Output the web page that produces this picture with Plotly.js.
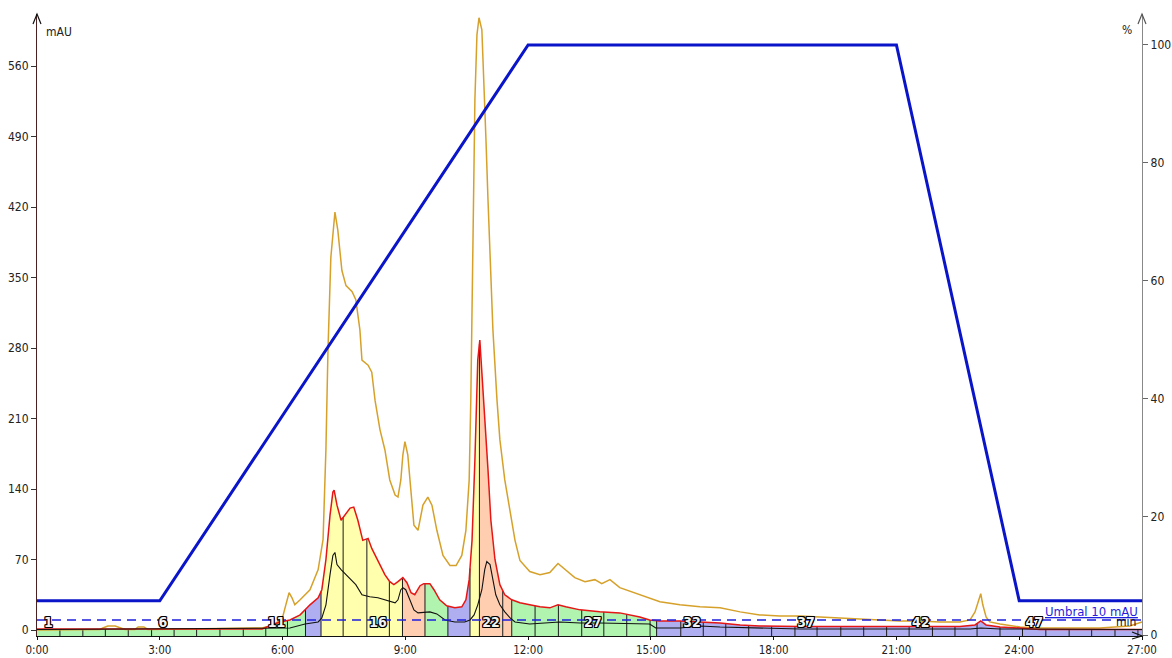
<!DOCTYPE html>
<html><head><meta charset="utf-8">
<script src="https://cdn.plot.ly/plotly-3.0.1.min.js"></script>
<style>html,body{margin:0;padding:0;background:#fff}#chart{width:1172px;height:658px}</style>
</head><body><div id="chart"></div>
<script>
// ---------- DATA (time in minutes, absorbance in mAU, gradient in %) ----------
const goldT=[0,1.54,1.61,1.73,1.91,2.03,2.15,2.39,2.47,2.61,2.71,5.50,5.69,5.84,5.99,6.08,6.16,6.23,6.30,6.43,6.67,6.87,6.99,7.06,7.11,7.18,7.26,7.28,7.35,7.45,7.55,7.70,7.79,7.89,7.94,8.04,8.09,8.18,8.26,8.38,8.50,8.62,8.75,8.82,8.89,8.94,8.99,9.06,9.14,9.21,9.31,9.43,9.55,9.65,9.77,9.92,10.09,10.24,10.38,10.48,10.56,10.60,10.65,10.70,10.75,10.80,10.87,10.92,10.97,11.02,11.07,11.14,11.24,11.31,11.43,11.56,11.68,11.80,12.04,12.29,12.53,12.73,12.90,13.14,13.39,13.63,13.80,14.00,14.24,14.73,15.22,15.71,16.20,16.69,17.18,17.66,18.15,18.64,19.13,19.62,20.11,20.60,21.08,21.57,22.06,22.55,22.80,22.92,23.01,23.06,23.11,23.19,23.28,23.53,24.02,24.50,25.97,26.70,27.0];
const goldV=[0,0.5,2,4,4,2,0.5,0.5,3,3,0.5,2,4,7,11,25,37,32,25,30,40,60,90,180,278,370,412,415,397,357,342,336,328,298,268,265,263,256,228,199,179,149,134,132,149,174,187,174,139,104,99,124,132,124,99,74,64,64,74,99,149,229,378,527,591,608,596,546,487,427,367,298,228,189,149,119,89,69,58,55,57,66,60,52,48,50,46,50,42,35,28,25,23,22,18,15,14,14,13,12,11,10,9,9,8,8,10,18,30,36,25,13,8,6,3,2,2,4,8];

const redT=[0,5.50,5.62,5.94,6.18,6.43,6.67,6.87,6.96,7.06,7.16,7.23,7.26,7.33,7.43,7.53,7.65,7.74,7.84,7.96,8.06,8.09,8.18,8.31,8.50,8.62,8.72,8.82,8.94,9.04,9.14,9.23,9.31,9.36,9.45,9.60,9.70,9.84,10.01,10.21,10.38,10.48,10.56,10.63,10.70,10.77,10.82,10.87,10.94,11.02,11.09,11.19,11.31,11.43,11.60,11.80,12.04,12.29,12.53,12.73,12.92,13.27,13.75,14.24,14.73,14.97,15.22,15.71,16.20,16.69,17.18,17.66,18.64,21.08,22.55,22.92,23.06,23.19,23.53,24.02,24.50,27.0];
const redV=[1,1,3,8,10,15,25,32,40,70,114,137,139,124,109,115,121,122,109,89,90,91,81,70,55,48,45,48,52,47,37,35,40,44,46,46,40,30,24,22,23,30,50,89,169,268,288,258,208,159,109,70,45,35,30,27,25,23,22,25,23,20,18,17,13,10,9,9,8,7,5,4,3.5,3.5,3.5,5,9,5,3,2,0.5,0.5];

const blackT=[0,6.18,6.55,6.87,6.96,7.06,7.16,7.23,7.28,7.33,7.43,7.55,7.65,7.79,7.94,8.13,8.33,8.50,8.62,8.75,8.82,8.89,8.94,9.01,9.11,9.21,9.31,9.48,9.60,9.77,9.97,10.21,10.45,10.58,10.68,10.77,10.87,10.94,10.99,11.07,11.14,11.21,11.31,11.43,11.56,11.68,12.04,12.77,13.27,13.75,14.97,15.12,15.71,16.20,16.69,18.64,22.80,23.06,23.53,27.0];
const blackV=[0.5,2,6,8,12,25,55,74,77,65,60,55,50,45,35,33,32,30,28,27,30,40,42,40,30,20,17,18,18,16,10,8,8,10,15,25,40,60,68,65,50,35,25,18,12,8,6,8,7,7,6,2,2,4,3,1,1,2,1,0.5];

const gradT=[0,3,12,21,24,27];
const gradV=[5.8,5.8,100,100,5.8,5.8];

const threshold=10;

// fraction boundaries (min) and class of each fraction
const fracBounds=[0,0.56,1.12,1.67,2.23,2.80,3.35,3.90,4.47,5.04,5.59,6.12,6.56,6.94,7.48,8.06,8.61,8.93,9.48,10.04,10.58,10.81,11.38,11.60,12.17,12.74,13.31,13.85,14.41,14.98,15.14,15.73,16.28,16.83,17.39,17.95,18.52,19.06,19.64,20.20,20.76,21.31,21.88,22.43,22.97,23.53,24.08,24.65,25.22,25.77,26.34,26.90,27.0];
const fracClass=['G','G','G','G','G','G','G','G','G','G','G','G','B','Y','Y','Y','Y','P','G','B','Y','P','P','G','G','G','G','G','G','G','B','B','B','B','B','B','B','B','B','B','B','B','B','B','B','B','B','B','B','B','B','B'];
const fracLabels=[1,6,11,16,22,27,32,37,42,47];

const xTickVals=[0,3,6,9,12,15,18,21,24,27];
const xTickText=['0:00','3:00','6:00','9:00','12:00','15:00','18:00','21:00','24:00','27:00'];
const yTickVals=[0,70,140,210,280,350,420,490,560];
const y2TickVals=[0,20,40,60,80,100];

// ---------- STYLE ----------
const Y_RANGE=[-5.96,611.7];
const Y2_RANGE=[-0.17,105.25];
const classColor={G:'#b0f4b0',B:'#aeaef0',Y:'#ffffae',P:'#ffcdb0'};
const FONT='"DejaVu Sans Condensed","DejaVu Sans",sans-serif';

function interp(ts,vs,t){
  if(t<=ts[0]) return vs[0];
  for(let i=1;i<ts.length;i++){
    if(t<=ts[i]){const f=(t-ts[i-1])/(ts[i]-ts[i-1]);return vs[i-1]+f*(vs[i]-vs[i-1]);}
  }
  return vs[vs.length-1];
}

const traces=[];
const base=Y_RANGE[0];
// fraction fills
for(let k=0;k<fracClass.length;k++){
  const s=fracBounds[k], e=fracBounds[k+1];
  const xs=[s], ys=[interp(redT,redV,s)];
  for(let i=0;i<redT.length;i++){ if(redT[i]>s && redT[i]<e){xs.push(redT[i]);ys.push(redV[i]);} }
  xs.push(e,e,s); ys.push(interp(redT,redV,e),base,base);
  traces.push({type:'scatter',mode:'lines',x:xs,y:ys,fill:'toself',fillcolor:classColor[fracClass[k]],line:{width:0},hoverinfo:'skip'});
}
// fraction dividers
const dvx=[],dvy=[];
for(let k=1;k<fracBounds.length-1;k++){ const b=fracBounds[k]; dvx.push(b,b,null); dvy.push(base,interp(redT,redV,b),null); }
traces.push({type:'scatter',mode:'lines',x:dvx,y:dvy,line:{color:'#1a1a1a',width:1},hoverinfo:'skip'});
// traces
traces.push({type:'scatter',mode:'lines',x:goldT,y:goldV,line:{color:'#d6a12a',width:1.5},hoverinfo:'skip'});
traces.push({type:'scatter',mode:'lines',x:redT,y:redV,line:{color:'#e41616',width:1.5},hoverinfo:'skip'});
traces.push({type:'scatter',mode:'lines',x:blackT,y:blackV,line:{color:'#111',width:1.1},hoverinfo:'skip'});
traces.push({type:'scatter',mode:'lines',x:[0,27],y:[threshold,threshold],line:{color:'#1f1fdd',width:1.6,dash:'9px,6px'},hoverinfo:'skip'});
// fraction labels
const lx=fracLabels.map(n=>(fracBounds[n-1]+fracBounds[n])/2);
traces.push({type:'scatter',mode:'text',x:lx,y:lx.map(()=>6),text:fracLabels.map(String),
  textfont:{family:FONT,size:14,color:'#f2f2f2',weight:'bold',shadow:'1px 0 0 #000, -1px 0 0 #000, 0 1px 0 #000, 0 -1px 0 #000, 1px 1px 0 #000, -1px -1px 0 #000, 1px -1px 0 #000, -1px 1px 0 #000'},hoverinfo:'skip'});
// gradient
traces.push({type:'scatter',mode:'lines',x:gradT,y:gradV,yaxis:'y2',line:{color:'#0a14c8',width:3},hoverinfo:'skip'});

const layout={
  width:1172,height:658,margin:{l:37,r:30,t:14,b:22,pad:0},
  paper_bgcolor:'#fff',plot_bgcolor:'#fff',showlegend:false,
  font:{family:FONT,size:12,color:'#222'},
  xaxis:{range:[0,27],showgrid:false,zeroline:false,showline:true,linecolor:'#111',linewidth:1,
    ticks:'outside',ticklen:3,tickcolor:'#111',tickvals:xTickVals,ticktext:xTickText,tickfont:{size:11.5}},
  yaxis:{range:Y_RANGE,showgrid:false,zeroline:false,showline:true,linecolor:'#4a2020',linewidth:1,
    ticks:'outside',ticklen:5,tickcolor:'#333',tickvals:yTickVals,tickfont:{size:12}},
  yaxis2:{range:Y2_RANGE,overlaying:'y',side:'right',showgrid:false,zeroline:false,showline:true,linecolor:'#888',linewidth:1.2,
    ticks:'outside',ticklen:5,tickcolor:'#666',tickvals:y2TickVals,tickfont:{size:12}},
  annotations:[
    {xref:'paper',yref:'paper',x:0.006,y:0.971,xanchor:'left',yanchor:'middle',text:'mAU',showarrow:false,font:{size:12,color:'#222'}},
    {xref:'paper',yref:'paper',x:0.993,y:0.974,xanchor:'right',yanchor:'middle',text:'%',showarrow:false,font:{size:12,color:'#222'}},
    {xref:'paper',yref:'paper',x:0.9985,y:0.040,xanchor:'right',yanchor:'middle',text:'Umbral 10 mAU',showarrow:false,font:{size:13,color:'#1f1fdd',lineposition:'under'}},
    {xref:'paper',yref:'paper',x:0.9965,y:0.022,xanchor:'right',yanchor:'middle',text:'min',showarrow:false,font:{size:12,color:'#111'}}
  ],
  shapes:[
    {type:'path',xref:'paper',yref:'paper',xsizemode:'pixel',ysizemode:'pixel',xanchor:0,yanchor:1,path:'M-4,-10L0,0L4,-10',line:{color:'#111',width:1.2}},
    {type:'path',xref:'paper',yref:'paper',xsizemode:'pixel',ysizemode:'pixel',xanchor:1,yanchor:1,path:'M-4,-10L0,0L4,-10',line:{color:'#555',width:1.2}},
    {type:'path',xref:'paper',yref:'paper',xsizemode:'pixel',ysizemode:'pixel',xanchor:1,yanchor:0,path:'M-10,4L0,0L-10,-3',line:{color:'#111',width:1.2}}
  ]
};
Plotly.newPlot('chart',traces,layout,{displayModeBar:false,staticPlot:true});
</script></body></html>
